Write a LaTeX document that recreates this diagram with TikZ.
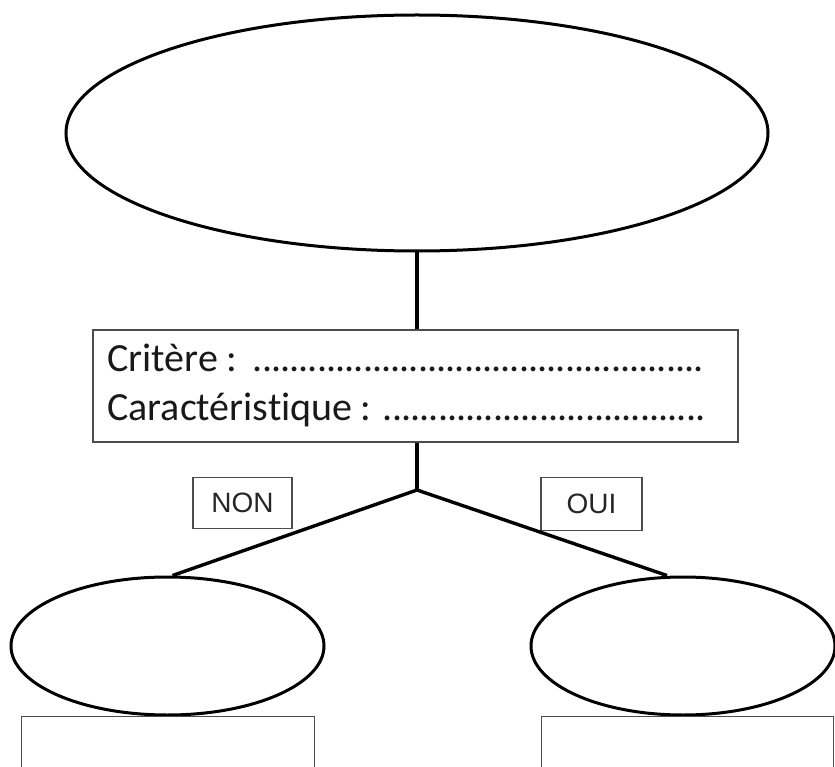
\documentclass[tikz,border=0pt]{standalone}
\usepackage{fontspec}
\setmainfont[Ligatures=NoCommon]{Carlito}
\newfontfamily\labelfont{Liberation Sans}
\usetikzlibrary{shapes.geometric,calc}
\newcommand\mydotfill[1]{\cleaders\hbox to 9.2pt{\hss.\hss}\hskip #1\relax\kern0pt\null}
\tikzset{
  oval/.style={ellipse, draw=black, line width=3pt, inner sep=0pt},
  frame/.style={rectangle, draw=black!70, line width=1.4pt, inner sep=0pt},
  link/.style={draw=black, line width=3.4pt},
  yesno/.style={frame, line width=1.2pt, font=\labelfont\fontsize{28}{32}\selectfont, text=black!85},
  crittext/.style={anchor=base west, inner sep=0pt, font=\fontsize{40}{48}\selectfont, text=black!90}
}
\begin{document}
\begin{tikzpicture}[x=1pt,y=-1pt]
\useasboundingbox (0,0) rectangle (835,767);
% top ellipse
\node[oval, minimum width=702pt, minimum height=236pt] (top) at (417,133) {};
% criterion box
\node[frame, minimum width=645pt, minimum height=112pt] (crit) at (415.5,386) {};
\node[crittext] (l1) at (107,371) {Critère : \mydotfill{458pt}};
\node[crittext] (l2) at (107,420) {Caractéristique\kern-1pt\ : \mydotfill{322pt}};
% junction
\coordinate (j) at (417,490);
% bottom ellipses
\node[oval, minimum width=313pt, minimum height=138pt] (left) at (167.5,646) {};
\node[oval, minimum width=304pt, minimum height=138pt] (right) at (683,646) {};
% bottom boxes
\node[frame, minimum width=293pt, minimum height=70pt, anchor=north west] (lbox) at (21,716) {};
\node[frame, minimum width=292pt, minimum height=70pt, anchor=north west] (rbox) at (541,716) {};
% labels
\node[yesno, minimum width=99pt, minimum height=51pt] (non) at (242.5,503) {NON};
\node[yesno, minimum width=101pt, minimum height=53pt] (oui) at (591.5,504) {OUI};
% connectors
\draw[link] (top.south) -- (crit.north -| top.south);
\draw[link] (crit.south -| j) -- (j);
\draw[link, line join=round] ($(left.north)+(5,0)$) -- (j) -- ($(right.north)+(-16,0)$);
\end{tikzpicture}
\end{document}
